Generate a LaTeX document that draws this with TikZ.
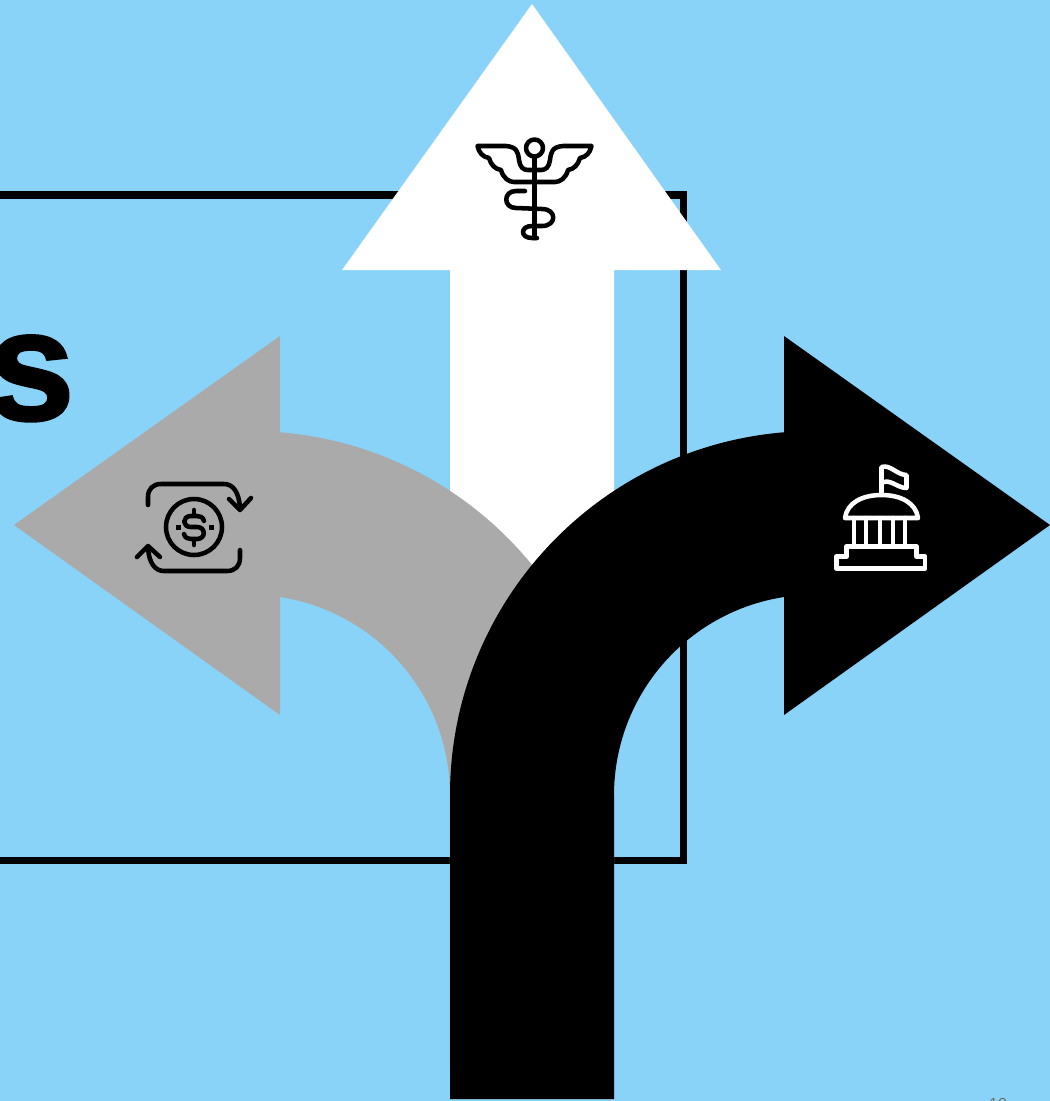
\documentclass[tikz,border=0pt]{standalone}
\usepackage{xcolor}
\usepackage{fontspec}
\setmainfont{Liberation Sans}
\newfontfamily\heavyfont[BoldFeatures={FakeBold=1.5}]{Liberation Sans}
\definecolor{skyback}{HTML}{89D2F8}
\definecolor{leftgray}{HTML}{AAAAAA}
\definecolor{pagegray}{HTML}{6E6E6E}
\begin{document}
\begin{tikzpicture}[
    x=0.75pt,y=0.75pt,yscale=-1,
    frame/.style={draw=black, line width=5.6pt, line join=miter},
    arrowshape/.style={draw=none},
    iconline/.style={line width=3.4pt, line cap=round, line join=round},
    bigletter/.style={font=\fontsize{118}{118}\heavyfont\bfseries, text=black, inner sep=0pt, anchor=base east},
    pagenum/.style={font=\fontsize{12}{12}\selectfont, text=pagegray, inner sep=0pt, anchor=base}
  ]
    \useasboundingbox (0,0) rectangle (1050,1101);
    \fill[skyback] (0,0) rectangle (1050,1101);

    \draw[frame] (-20,195) -- (683.5,195) -- (683.5,860.5) -- (-20,860.5);
    \node[bigletter] (letter) at (75,420) {s};
    \node[pagenum] (pageno) at (998,1109) {10};

    % three arrows, back to front
    \fill[arrowshape, white] (532,4) -- (721,270) -- (614,270) -- (614,795) -- (450,795) -- (450,270) -- (342,270) -- cycle;
    \fill[arrowshape, leftgray] (614,1099) -- (614,795) arc[start angle=0, end angle=-85.29, radius=364]
      -- (280,336) -- (14,525) -- (280,715) -- (280,597) arc[start angle=-81.24, end angle=0, radius=200.5]
      -- (450,1099) -- cycle;
    \fill[arrowshape, black] (450,1099) -- (450,795) arc[start angle=180, end angle=265.29, radius=364]
      -- (784,336) -- (1050,525) -- (784,715) -- (784,597) arc[start angle=261.24, end angle=180, radius=200.5]
      -- (614,1099) -- cycle;

    % staff and wings
    \draw[iconline] (534.5,148) circle[radius=8.5];
    \draw[iconline] (534.5,157) -- (534.5,238);
    \draw[iconline] (477.5,146) -- (506,146) .. controls (517,147) and (518,152) .. (519,160) .. controls (520,167) and (523,170) .. (528,170) -- (541,170)
      .. controls (546,170) and (549,167) .. (550,160) .. controls (551,152) and (552,147) .. (563,146) -- (591.5,146)
      .. controls (590,153) and (586,157) .. (580,158) .. controls (578,165) and (574,169) .. (568,170)
      .. controls (566,178) and (560,182) .. (555,182) -- (514,182)
      .. controls (509,182) and (503,178) .. (501,170) .. controls (495,169) and (491,165) .. (489,158)
      .. controls (483,157) and (479,153) .. (477.5,146) -- cycle;
    \draw[iconline] (525,191) -- (516,191) .. controls (503,191) and (503,208) .. (516,208) -- (542,209)
      .. controls (557,209) and (557,226) .. (542,226) -- (532,226) .. controls (520,226) and (520,238) .. (532,238) -- (537,238);

    % coin and two turning arrows
    \draw[iconline] (194,527) circle[radius=28];
    \fill (175.5,524.5) rectangle (180.5,529.5);
    \fill (208.5,524.5) rectangle (213.5,529.5);
    \draw[iconline] (194,510) -- (194,515);
    \draw[iconline] (194,540) -- (194,545);
    \draw[iconline] (204,521) .. controls (203,517) and (200,516) .. (197,516) -- (191,516)
      .. controls (182,516) and (182,527) .. (191,527) -- (197,527)
      .. controls (206,527) and (206,539) .. (197,539) -- (191,539) .. controls (188,539) and (185,538) .. (184,534);
    \draw[iconline] (148,505) -- (148,497) .. controls (148,489) and (153,484) .. (161,484) -- (224,484)
      .. controls (233,484) and (239,492) .. (240,508);
    \draw[iconline] (229,499) -- (240,510) -- (251,498);
    \draw[iconline] (240,550) -- (240,558) .. controls (240,566) and (235,571) .. (227,571) -- (164,571)
      .. controls (155,571) and (149,563) .. (148,548);
    \draw[iconline] (137,557) -- (148,546) -- (160,557);

    % domed building with flag
    \draw[iconline, white] (881.5,493) -- (881.5,467) .. controls (890,464) and (897,475) .. (906.5,475) -- (906.5,488)
      .. controls (897,488) and (890,478) .. (881.5,483);
    \draw[iconline, white] (845,518) .. controls (847,503) and (862,495) .. (881.5,495) .. controls (901,495) and (916,503) .. (918,518) -- cycle;
    \foreach \colx in {854,866,880,893,905} {
      \draw[iconline, white] (\colx,518) -- (\colx,546);
    }
    \draw[iconline, white] (846.5,546.5) -- (916.5,546.5) -- (916.5,556.5) -- (925,556.5) -- (925,568.5)
      -- (836.5,568.5) -- (836.5,556.5) -- (846.5,556.5) -- cycle;
\end{tikzpicture}
\end{document}
